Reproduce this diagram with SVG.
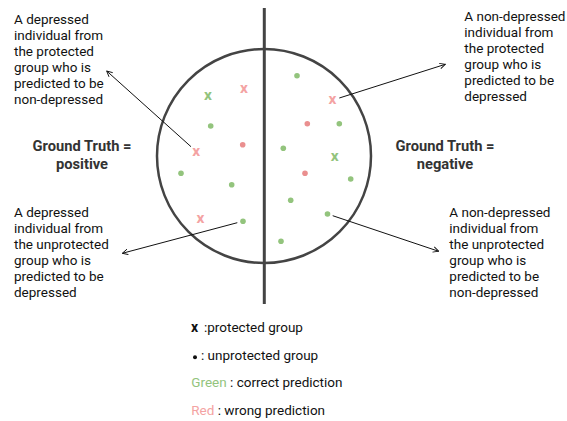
<svg xmlns="http://www.w3.org/2000/svg" width="567" height="421" viewBox="0 0 567 421">
<defs>
<style>
text{font-family:Roboto,"Liberation Sans",sans-serif;}
.t{font-size:13.5px;fill:#111;}
.gt{font-size:14.7px;font-weight:bold;fill:#333;text-anchor:middle;}
.lg{font-size:13.5px;fill:#111;}
.gd{fill:#93c47d;}
.rd{fill:#ea8f8f;}
.gx{font-size:15.5px;font-weight:bold;fill:#93c47d;text-anchor:middle;}
.rx{font-size:15.5px;font-weight:bold;fill:#f4a3a3;text-anchor:middle;}
.ar{stroke:#111;stroke-width:1;fill:none;marker-end:url(#ah);}
</style>
<marker id="ah" viewBox="0 0 10 10" refX="9" refY="5" markerWidth="7" markerHeight="7" orient="auto" markerUnits="userSpaceOnUse">
<path d="M1,1 L9,5 L1,9" fill="none" stroke="#111" stroke-width="1.3"/>
</marker>
</defs>
<rect width="567" height="421" fill="#fff"/>
<g id="circle">
<circle cx="264" cy="156" r="107" fill="#fff" stroke="#444" stroke-width="2.5"/>
</g>
<g id="divider">
<line x1="264.3" y1="8" x2="264.3" y2="304" stroke="#444" stroke-width="3"/>
</g>
<g id="points">
<text class="gx" x="208" y="99.5">x</text>
<text class="rx" x="244" y="92.5">x</text>
<circle class="gd" cx="210.7" cy="126" r="2.8"/>
<circle class="rd" cx="242.7" cy="144.7" r="2.8"/>
<text class="rx" x="196.3" y="156">x</text>
<circle class="gd" cx="181" cy="173.3" r="2.8"/>
<circle class="gd" cx="231.7" cy="184.7" r="2.8"/>
<text class="rx" x="200.5" y="223">x</text>
<circle class="gd" cx="243" cy="221.3" r="2.8"/>
<circle class="gd" cx="297" cy="75.7" r="2.8"/>
<text class="rx" x="332.5" y="103.5">x</text>
<circle class="rd" cx="307.3" cy="123.7" r="2.8"/>
<circle class="gd" cx="339.3" cy="123.7" r="2.8"/>
<circle class="gd" cx="283.3" cy="148.3" r="2.8"/>
<text class="gx" x="334.7" y="160.5">x</text>
<circle class="rd" cx="305" cy="173.3" r="2.8"/>
<circle class="gd" cx="350.7" cy="179" r="2.8"/>
<circle class="gd" cx="290.7" cy="200.3" r="2.8"/>
<circle class="gd" cx="327.5" cy="214" r="2.8"/>
<circle class="gd" cx="281" cy="241.3" r="2.8"/>
</g>
<g id="connectors">
<line class="ar" x1="191" y1="146.7" x2="106.7" y2="71"/>
<line class="ar" x1="339.3" y1="98" x2="445.3" y2="64.3"/>
<line class="ar" x1="237.3" y1="222.7" x2="122.3" y2="253.3"/>
<line class="ar" x1="332.7" y1="215.7" x2="438.7" y2="251.3"/>
</g>
<g id="label-top-left">
<text class="t" x="14" y="24">A depressed</text>
<text class="t" x="14" y="40">individual from</text>
<text class="t" x="14" y="56">the protected</text>
<text class="t" x="14" y="72">group who is</text>
<text class="t" x="14" y="88">predicted to be</text>
<text class="t" x="14" y="104">non-depressed</text>
</g>
<g id="label-top-right">
<text class="t" x="464.3" y="21">A non-depressed</text>
<text class="t" x="464.3" y="37">individual from</text>
<text class="t" x="464.3" y="53">the protected</text>
<text class="t" x="464.3" y="69">group who is</text>
<text class="t" x="464.3" y="85">predicted to be</text>
<text class="t" x="464.3" y="101">depressed</text>
</g>
<g id="label-bottom-left">
<text class="t" x="14" y="217">A depressed</text>
<text class="t" x="14" y="233">individual from</text>
<text class="t" x="14" y="249">the unprotected</text>
<text class="t" x="14" y="265">group who is</text>
<text class="t" x="14" y="281">predicted to be</text>
<text class="t" x="14" y="297">depressed</text>
</g>
<g id="label-bottom-right">
<text class="t" x="449.3" y="217">A non-depressed</text>
<text class="t" x="449.3" y="233">individual from</text>
<text class="t" x="449.3" y="249">the unprotected</text>
<text class="t" x="449.3" y="265">group who is</text>
<text class="t" x="449.3" y="281">predicted to be</text>
<text class="t" x="449.3" y="297">non-depressed</text>
</g>
<g id="gt-positive">
<text class="gt" x="82" y="150.8">Ground Truth =</text>
<text class="gt" x="82" y="168.5">positive</text>
</g>
<g id="gt-negative">
<text class="gt" x="445" y="150.8">Ground Truth =</text>
<text class="gt" x="445" y="168.5">negative</text>
</g>
<g id="legend">
<text class="lg" x="191" y="331.5"><tspan font-weight="bold" font-size="14">x</tspan><tspan x="204">:protected group</tspan></text>
<circle cx="195" cy="357.3" r="2" fill="#111"/>
<text class="lg" x="201" y="360">: unprotected group</text>
<text class="lg" x="191.3" y="387"><tspan fill="#93c47d">Green</tspan> : correct prediction</text>
<text class="lg" x="191.3" y="415"><tspan fill="#f4a3a3">Red</tspan> : wrong prediction</text>
</g>
</svg>
